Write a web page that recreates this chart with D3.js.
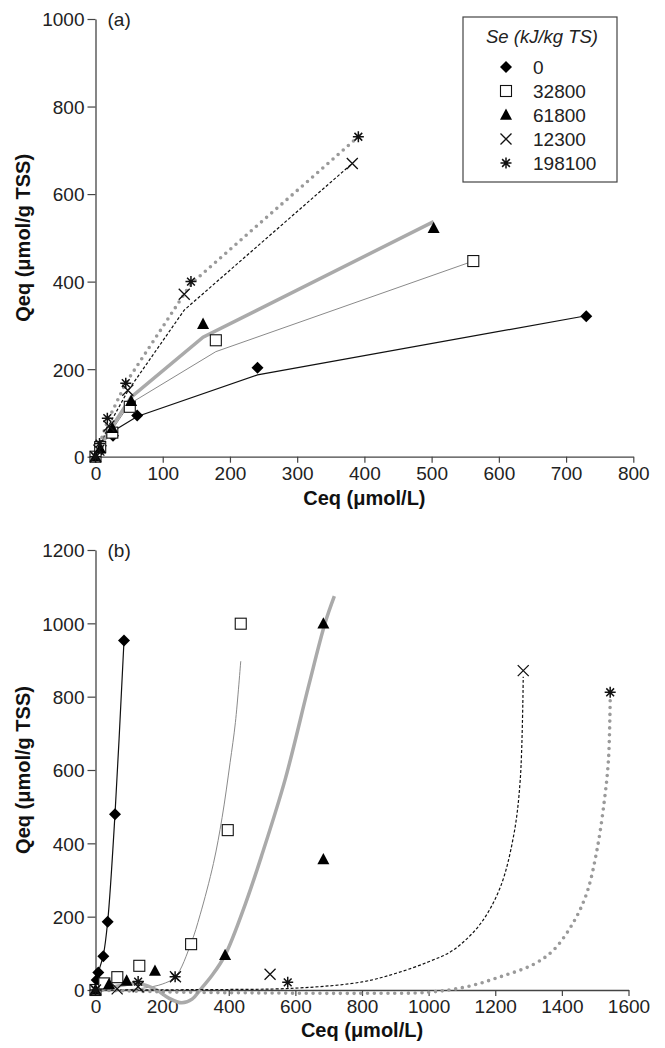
<!DOCTYPE html>
<html><head><meta charset="utf-8">
<script src="https://cdn.jsdelivr.net/npm/d3@7"></script>
<style>body{margin:0;background:#fff}svg{display:block}text{font-family:"Liberation Sans",Arial,sans-serif}</style>
</head><body>
<svg id="c" width="665" height="1048"></svg>
<script>
// ---------- data ----------
const seriesNames = ["0", "32800", "61800", "12300", "198100"];
const legendTitle = "Se (kJ/kg TS)";
const xTicksA = [0,100,200,300,400,500,600,700,800];
const yTicksA = [0,200,400,600,800,1000];
const xTicksB = [0,200,400,600,800,1000,1200,1400,1600];
const yTicksB = [0,200,400,600,800,1000,1200];

// panel (a) observed points [Ceq, Qeq]
const a_pts_0      = [[0,0],[3,8],[8,25],[26,48],[62,94],[241,203],[730,321]];
const a_pts_32800  = [[0,0],[7,22],[25,55],[51,114],[179,266],[562,447]];
const a_pts_61800  = [[0,0],[7,18],[25,65],[53,127],[160,303],[503,522]];
const a_pts_12300  = [[0,0],[5,15],[20,70],[48,152],[132,371],[382,670]];
const a_pts_198100 = [[0,0],[6,30],[17.6,88],[45,168],[142,400],[391,731]];
// panel (a) fitted lines
const a_fit_0      = [[0,0],[3,12],[8,28],[26,58],[62,92],[241,187],[730,322]];
const a_fit_32800  = [[0,0],[7,24],[25,62],[51,121],[179,240],[562,447]];
const a_fit_61800  = [[0,0],[7,25],[25,70],[53,136],[160,273],[503,537]];
const a_fit_12300  = [[0,0],[5,20],[20,72],[48,150],[132,335],[382,670]];
const a_fit_198100 = [[0,0],[6,28],[17.6,80],[45,168],[142,395],[391,731]];

// panel (b) observed points
const b_pts_0      = [[0,0],[3.5,27],[8.5,48],[23.5,92],[36.5,186],[58.5,479],[85.6,953]];
const b_pts_32800  = [[0,0],[26.5,18],[65.5,35],[131.5,66],[287,125],[397,436],[436,999]];
const b_pts_61800  = [[0,0],[40.5,16],[93.5,25],[178.5,52],[389,95],[684,356],[684,999]];
const b_pts_12300  = [[0,0],[65,3],[128,9],[240,36],[524,43],[1284,871]];
const b_pts_198100 = [[0,0],[128,23],[239,36],[577,21],[1545,812]];
// panel (b) fitted curves
const b_fit_0      = [[0,0],[3.5,27],[8.5,48],[23.5,95],[36.5,186],[58.5,479],[85.6,953]];
const b_fit_32800  = [[0,0],[100,1],[150,6],[200,16],[240,36],[287,128],[314,205],[354,345],[380,470],[404,620],[420,730],[436,897]];
const b_fit_61800  = [[0,0],[50,8],[100,16],[128,18],[160,10],[184,0],[220,-22],[259,-35],[290,-25],[314,0],[350,40],[389,95],[450,235],[500,370],[569,573],[640,830],[689,1000],[717,1074]];
const b_fit_12300  = [[0,0],[300,1],[600,5],[800,22],[900,45],[1000,77],[1074,109],[1155,180],[1215,280],[1255,420],[1275,573],[1284,854]];
const b_fit_198100 = [[0,0],[200,-5],[500,-8],[800,-9],[1000,-6],[1115,9],[1215,36],[1315,70],[1375,109],[1435,185],[1475,265],[1505,380],[1528,520],[1540,630],[1545,790]];

// ---------- drawing ----------
const svg = d3.select("#c");
const axisColor = "#444";

const lineStyles = [
  {stroke:"#111", width:1.2, dash:null, cap:"butt"},
  {stroke:"#8a8a8a", width:1, dash:null, cap:"butt"},
  {stroke:"#aaaaaa", width:3.5, dash:null, cap:"butt"},
  {stroke:"#111", width:1.2, dash:"3,2", cap:"butt"},
  {stroke:"#9a9a9a", width:3.6, dash:"0,6.8", cap:"round"}
];

function marker(g, type, x, y) {
  const r = 6;
  if (type === 0) g.append("path").attr("d",`M${x},${y-r}L${x+r},${y}L${x},${y+r}L${x-r},${y}Z`).attr("fill","#000");
  else if (type === 1) g.append("rect").attr("x",x-5.5).attr("y",y-5.5).attr("width",11).attr("height",11).attr("fill","#fff").attr("stroke","#111").attr("stroke-width",1.1);
  else if (type === 2) g.append("path").attr("d",`M${x},${y-6.5}L${x+6},${y+4.8}L${x-6},${y+4.8}Z`).attr("fill","#000");
  else if (type === 3) g.append("path").attr("d",`M${x-5.5},${y-5.5}L${x+5.5},${y+5.5}M${x-5.5},${y+5.5}L${x+5.5},${y-5.5}`).attr("stroke","#111").attr("stroke-width",1.3).attr("fill","none");
  else {
    let d = "";
    for (let k=0;k<4;k++){ const a=k*Math.PI/4, dx=5.5*Math.cos(a), dy=5.5*Math.sin(a); d += `M${x-dx},${y-dy}L${x+dx},${y+dy}`; }
    g.append("path").attr("d",d).attr("stroke","#111").attr("stroke-width",1.5).attr("fill","none");
  }
}

function panel(opts) {
  const x = d3.scaleLinear().domain(opts.xd).range(opts.xr);
  const y = d3.scaleLinear().domain(opts.yd).range(opts.yr);
  const g = svg.append("g");
  const fmt = d3.format("d");

  // axes
  const xa = g.append("g").attr("transform",`translate(0,${opts.yr[0]})`)
    .call(d3.axisBottom(x).tickValues(opts.xt).tickFormat(fmt).tickSize(6).tickSizeOuter(0).tickPadding(4));
  const ya = g.append("g").attr("transform",`translate(${opts.xr[0]},0)`)
    .call(d3.axisLeft(y).tickValues(opts.yt).tickFormat(fmt).tickSize(8).tickSizeOuter(0).tickPadding(3));
  [xa, ya].forEach(a => {
    a.select(".domain").attr("stroke",axisColor).attr("stroke-width",1.3);
    a.selectAll(".tick line").attr("stroke",axisColor).attr("stroke-width",1.2);
    a.selectAll(".tick text").attr("fill","#222").style("font-size","19px").style("font-family","'Liberation Sans',Arial,sans-serif");
  });
  ya.selectAll(".tick text").attr("dy","0.36em");

  // lines
  const line = d3.line().x(d=>x(d[0])).y(d=>y(d[1])).curve(opts.curve);
  opts.fits.forEach((f,i) => {
    const s = lineStyles[i];
    g.append("path").attr("d",line(f)).attr("fill","none").attr("stroke",s.stroke)
      .attr("stroke-width",s.width).attr("stroke-dasharray",s.dash).attr("stroke-linecap",s.cap);
  });
  // markers
  opts.pts.forEach((p,i) => p.forEach(d => marker(g, i, x(d[0]), y(d[1]))));

  // labels
  g.append("text").attr("x",opts.xr[0]+12).attr("y",opts.yr[1]+7).style("font-size","19px").attr("fill","#222").text(opts.tag);
  g.append("text").attr("x",(opts.xr[0]+opts.xr[1])/2).attr("y",opts.xlabY).attr("text-anchor","middle")
    .style("font-size","20px").style("font-weight","bold").attr("fill","#111").text("Ceq (μmol/L)");
  const cy = (opts.yr[0]+opts.yr[1])/2;
  g.append("text").attr("transform",`translate(30,${cy}) rotate(-90)`).attr("text-anchor","middle")
    .style("font-size","20px").style("font-weight","bold").attr("fill","#111").text("Qeq (μmol/g TSS)");
  return g;
}

panel({xd:[0,800], xr:[95.5,633.3], yd:[0,1000], yr:[456.7,19], xt:xTicksA, yt:yTicksA,
  curve:d3.curveLinear, tag:"(a)", xlabY:505,
  fits:[a_fit_0,a_fit_32800,a_fit_61800,a_fit_12300,a_fit_198100],
  pts:[a_pts_0,a_pts_32800,a_pts_61800,a_pts_12300,a_pts_198100]});

panel({xd:[0,1600], xr:[95.5,628.5], yd:[0,1200], yr:[990,550], xt:xTicksB, yt:yTicksB,
  curve:d3.curveCatmullRom.alpha(0.5), tag:"(b)", xlabY:1037,
  fits:[b_fit_0,b_fit_32800,b_fit_61800,b_fit_12300,b_fit_198100],
  pts:[b_pts_0,b_pts_32800,b_pts_61800,b_pts_12300,b_pts_198100]});

// legend
const lg = svg.append("g");
lg.append("rect").attr("x",463).attr("y",17).attr("width",154).attr("height",165).attr("fill","#fff").attr("stroke","#444").attr("stroke-width",1.2);
lg.append("text").attr("x",542).attr("y",43).attr("text-anchor","middle").style("font-size","18.5px").style("font-style","italic").attr("fill","#222").text(legendTitle);
seriesNames.forEach((n,i) => {
  const yy = 67 + i*24;
  marker(lg, i, 506, yy);
  lg.append("text").attr("x",533).attr("y",yy+7).style("font-size","19px").attr("fill","#222").text(n);
});
</script>
</body></html>
